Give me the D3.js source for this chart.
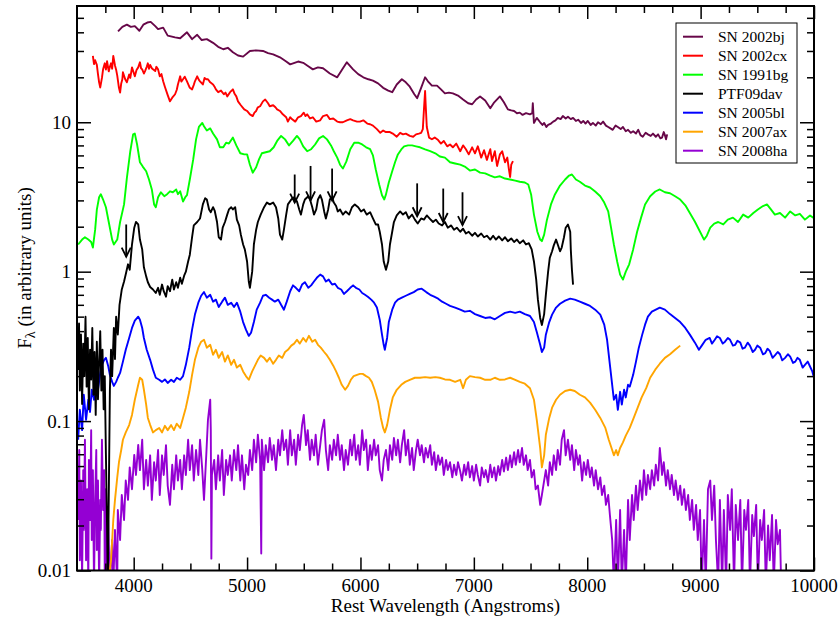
<!DOCTYPE html>
<html><head><meta charset="utf-8">
<script src="https://cdn.jsdelivr.net/npm/d3@7/dist/d3.min.js"></script>
<style>body{margin:0;background:#fff}svg{display:block}</style>
</head><body><svg id="c" width="839" height="618"></svg>
<script>
// ---------- DATA (wavelength in Angstrom, flux in arbitrary units) ----------
const xMajorTicks = [4000,5000,6000,7000,8000,9000,10000];
const xTickLabels = ["4000","5000","6000","7000","8000","9000","10000"];
const yMajorTicks = [0.01,0.1,1,10];
const yTickLabels = ["0.01","0.1","1","10"];
const seriesNames = ["SN 2002bj","SN 2002cx","SN 1991bg","PTF09dav","SN 2005bl","SN 2007ax","SN 2008ha"];

const sn2002bj = [[3862,40.6],[3900,43.5],[3940,45],[3975,43.5],[4010,44],[4050,41],[4085,45],[4120,46.5],[4150,47],[4190,44],[4215,42],[4260,43],[4300,38],[4365,37],[4410,36.5],[4470,40],[4515,36],[4560,38.5],[4600,35.5],[4645,36],[4700,34],[4745,32],[4790,30.8],[4830,31.5],[4875,29.4],[4920,28],[4965,27.5],[5025,30],[5080,30.3],[5140,30],[5185,29],[5230,28.5],[5290,27.2],[5345,25.5],[5380,24.4],[5450,25.5],[5495,25],[5530,24],[5580,22.6],[5625,23.3],[5670,23],[5730,21.2],[5795,20],[5840,22.6],[5880,25.2],[5935,22.6],[5980,21],[6025,20],[6070,19.4],[6110,19],[6155,18.2],[6200,17],[6245,16.3],[6280,15.9],[6320,17.9],[6365,19.4],[6400,18.5],[6435,17.3],[6475,15.4],[6500,14.5],[6535,17],[6570,20],[6595,18.8],[6630,17.6],[6675,17.6],[6710,16.6],[6745,15.6],[6780,15.8],[6815,15.6],[6860,15.1],[6905,14.2],[6950,13.4],[6985,13.2],[7020,14.2],[7055,14.9],[7100,14],[7145,12.4],[7180,13.6],[7230,14.9],[7265,13.6],[7300,12.2],[7330,12.0],[7355,11.9],[7380,11.5],[7405,11.6],[7430,11.2],[7460,11.5],[7495,11.3],[7515,11.5],[7520,13.4],[7530,9.9],[7555,10.7],[7585,10.0],[7605,9.6],[7620,9.9],[7640,9.3],[7655,9.6],[7680,9.8],[7700,10.1],[7720,10.3],[7740,10.7],[7765,10.5],[7785,11.0],[7810,10.6],[7830,10.9],[7855,10.5],[7875,10.7],[7900,10.2],[7920,10.4],[7945,9.9],[7965,10.2],[7985,9.8],[8005,10.2],[8030,9.6],[8050,9.9],[8075,9.5],[8095,10.0],[8120,9.7],[8140,10.1],[8165,9.5],[8185,9.3],[8205,9.1],[8225,8.9],[8250,9.5],[8270,9.3],[8295,9.0],[8315,9.3],[8340,8.7],[8360,8.9],[8385,8.5],[8405,8.7],[8430,8.4],[8450,8.9],[8470,8.2],[8490,8.0],[8515,8.5],[8535,8.3],[8560,8.1],[8580,8.4],[8605,8.0],[8625,8.3],[8645,7.8],[8660,7.9],[8675,8.6],[8685,8.2],[8695,7.7],[8705,8.3]];

const sn2002cx = [[3640,27.8],[3650,24.5],[3660,26],[3675,24.2],[3685,21],[3695,18.5],[3705,17.1],[3720,19.8],[3730,22.6],[3745,24.8],[3755,22.5],[3765,25.6],[3780,21.9],[3790,23.5],[3800,24.8],[3810,22.8],[3820,27.8],[3835,24],[3845,22.5],[3855,20.5],[3870,17],[3880,15.8],[3890,18.2],[3900,19.4],[3905,21.6],[3925,19.4],[3940,18.5],[3960,20.9],[3970,19.8],[3985,23.3],[4005,20.9],[4010,20.3],[4025,22.4],[4040,23.3],[4055,25.2],[4065,23],[4075,22.6],[4090,21.2],[4100,22],[4115,23.5],[4125,24.8],[4135,22.8],[4145,24.2],[4160,23],[4170,22.6],[4190,22],[4200,23.5],[4215,22.6],[4230,20.3],[4245,21],[4260,18.8],[4275,17.3],[4300,15.2],[4320,13.8],[4340,14.6],[4365,15.4],[4380,16.5],[4390,17.9],[4410,20.3],[4420,18.7],[4435,19.4],[4450,20.2],[4470,18.8],[4495,17],[4515,16.6],[4530,17.8],[4540,18.8],[4560,20.3],[4575,19.2],[4585,18.8],[4610,17.9],[4625,19.8],[4640,19.4],[4655,19.4],[4675,18.5],[4700,17.9],[4715,17.2],[4725,16.6],[4745,15.9],[4770,16.3],[4795,15.4],[4810,15.8],[4825,14.9],[4850,15.9],[4875,16.6],[4890,15.5],[4905,14.9],[4920,13.8],[4945,13],[4960,12.6],[4975,12.2],[5000,11.9],[5025,11.3],[5050,11],[5065,11.6],[5080,11.9],[5095,12.6],[5115,12.8],[5140,13.8],[5160,14.2],[5185,13.4],[5200,12.8],[5230,13],[5250,12.6],[5265,12.2],[5290,11.9],[5315,11.3],[5345,10.8],[5360,10.1],[5380,10.8],[5395,10.5],[5425,10.1],[5450,10.8],[5475,11],[5500,11.6],[5515,11.0],[5530,11.3],[5555,10.6],[5580,10.8],[5610,10.1],[5645,10.3],[5670,11],[5705,11.2],[5730,10.5],[5760,10.6],[5795,10.1],[5820,10],[5845,10],[5880,10.3],[5910,10.5],[5935,10.3],[5970,10.1],[5995,10.1],[6025,10.3],[6060,9.8],[6085,9.7],[6110,9.5],[6145,9.0],[6175,8.5],[6200,8.8],[6225,8.6],[6260,8.6],[6285,8.4],[6320,8.0],[6350,8.5],[6375,8.3],[6400,8.4],[6435,8.1],[6465,8.0],[6490,8.3],[6515,8.4],[6535,8.5],[6550,9.0],[6560,12.2],[6570,16.2],[6575,13.2],[6585,9.3],[6605,7.9],[6630,7.7],[6655,7.9],[6685,7.6],[6710,7.2],[6735,7.5],[6765,6.9],[6790,7.1],[6815,6.8],[6845,7.2],[6880,6.4],[6905,7],[6930,6.6],[6955,6.1],[6985,6.8],[7010,6.2],[7035,6.9],[7065,5.8],[7090,6.5],[7115,5.6],[7145,6.6],[7160,5.5],[7185,6.4],[7205,5.1],[7230,6.1],[7250,6.4],[7275,5.4],[7295,5.8],[7310,4.8],[7320,4.3],[7330,5.2],[7345,5.5]];

const sn1991bg = [[3510,1.52],[3545,1.64],[3570,1.7],[3600,1.64],[3625,1.58],[3640,1.45],[3660,1.91],[3675,2.6],[3695,3.15],[3710,3.3],[3730,3.04],[3755,2.7],[3780,2.15],[3810,1.64],[3825,1.52],[3855,1.64],[3880,2.15],[3915,2.82],[3940,4.25],[3970,6.4],[3995,8.3],[4010,8.4],[4030,7.1],[4055,5.4],[4080,5.05],[4110,4.7],[4135,4.14],[4160,3.55],[4180,2.82],[4195,2.7],[4215,3.15],[4240,3.4],[4270,3.2],[4295,3.3],[4320,3.45],[4345,3.4],[4375,3.55],[4390,3.3],[4410,3.45],[4435,2.95],[4455,3.15],[4470,3.25],[4495,4.14],[4525,5.64],[4550,7.68],[4575,9.3],[4605,9.9],[4620,9.4],[4645,8.8],[4675,9.1],[4700,8.4],[4735,7.68],[4760,6.8],[4790,6.8],[4815,7.3],[4840,7.2],[4875,7.9],[4905,7.0],[4940,6.2],[4975,6.1],[5000,6.1],[5025,5.2],[5050,4.6],[5080,5.0],[5105,5.64],[5130,6.2],[5165,6.3],[5200,6.4],[5235,6.8],[5265,7.5],[5300,8.1],[5335,7.68],[5370,7.0],[5405,7.5],[5440,8.1],[5465,7.68],[5495,6.9],[5530,6.4],[5565,6.6],[5600,7.1],[5635,7.8],[5670,8.1],[5705,7.68],[5740,7.0],[5765,6.4],[5795,5.8],[5820,5.2],[5845,4.9],[5875,5.45],[5910,6.6],[5945,7.3],[5980,7.3],[6015,7.1],[6050,6.8],[6085,6.6],[6110,6.0],[6135,4.83],[6165,3.83],[6190,3.25],[6210,3.04],[6225,3.29],[6250,3.95],[6280,4.7],[6305,5.4],[6330,6.09],[6360,6.58],[6385,6.9],[6420,7.0],[6455,7.0],[6490,6.9],[6525,6.8],[6570,6.58],[6615,6.4],[6660,6.2],[6700,5.9],[6745,5.8],[6790,5.4],[6835,5.3],[6880,5.2],[6920,5.05],[6965,4.75],[7010,4.83],[7055,4.6],[7100,4.55],[7145,4.4],[7185,4.28],[7230,4.35],[7275,4.2],[7320,4.14],[7365,4.07],[7405,4.0],[7450,3.95],[7480,3.83],[7505,3.29],[7530,2.41],[7560,1.85],[7585,1.64],[7600,1.6],[7620,1.77],[7645,2.23],[7680,2.82],[7715,3.29],[7760,3.77],[7805,4.14],[7840,4.4],[7865,4.47],[7900,4.14],[7935,4.0],[7980,3.77],[8025,3.66],[8070,3.44],[8115,3.2],[8150,2.9],[8185,2.53],[8210,1.97],[8235,1.52],[8265,1.16],[8290,0.956],[8315,0.885],[8340,1.0],[8370,1.12],[8405,1.41],[8440,1.85],[8475,2.3],[8510,2.82],[8555,3.2],[8600,3.44],[8640,3.55],[8685,3.4],[8730,3.35],[8775,3.2],[8820,3.04],[8865,2.78],[8905,2.47],[8950,2.16],[8995,1.85],[9030,1.64],[9055,1.74],[9085,1.97],[9120,2.1],[9155,2.15],[9200,2.07],[9240,2.23],[9285,2.3],[9330,2.15],[9375,2.41],[9420,2.3],[9465,2.47],[9505,2.61],[9550,2.75],[9585,2.82],[9620,2.61],[9655,2.41],[9700,2.47],[9745,2.3],[9790,2.53],[9835,2.38],[9875,2.44],[9920,2.23],[9965,2.38],[10000,2.28]];

const ptf09dav = [[3510,0.22],[3518,0.45],[3525,0.16],[3535,0.38],[3545,0.13],[3555,0.33],[3565,0.2],[3575,0.5],[3585,0.17],[3595,0.36],[3605,0.12],[3615,0.3],[3625,0.19],[3635,0.42],[3645,0.15],[3655,0.29],[3665,0.11],[3675,0.34],[3685,0.14],[3695,0.25],[3705,0.4],[3715,0.16],[3725,0.3],[3735,0.12],[3745,0.2],[3755,0.06],[3765,0.02],[3772,0.008],[3780,0.03],[3790,0.16],[3800,0.3],[3810,0.2],[3825,0.42],[3835,0.26],[3845,0.5],[3860,0.38],[3875,0.6],[3895,0.76],[3915,0.86],[3930,0.96],[3950,1.12],[3965,1.03],[3985,1.52],[4005,1.97],[4020,2.15],[4040,2.07],[4055,1.64],[4075,1.41],[4090,1.07],[4110,0.93],[4125,0.85],[4145,0.79],[4170,0.76],[4195,0.72],[4215,0.78],[4230,0.70],[4250,0.82],[4265,0.74],[4285,0.68],[4300,0.80],[4320,0.74],[4340,0.885],[4355,0.76],[4375,0.85],[4390,0.78],[4410,0.91],[4425,0.83],[4445,0.94],[4460,1.0],[4480,1.17],[4495,1.3],[4515,1.7],[4530,2.04],[4560,2.15],[4585,2.27],[4610,2.82],[4630,3.1],[4645,3.04],[4665,2.61],[4680,2.5],[4700,2.7],[4715,2.55],[4735,2.15],[4750,1.7],[4770,1.64],[4785,1.97],[4805,2.15],[4825,2.41],[4840,2.61],[4860,2.7],[4875,2.61],[4895,2.7],[4910,2.23],[4930,2.04],[4945,1.77],[4965,1.52],[4980,1.41],[5000,1.17],[5015,0.86],[5025,0.78],[5045,1.0],[5060,1.52],[5080,1.91],[5095,2.15],[5120,2.41],[5150,2.7],[5175,2.9],[5200,2.82],[5230,2.9],[5255,2.7],[5275,2.27],[5290,1.77],[5310,1.64],[5325,1.91],[5345,2.41],[5360,2.82],[5390,3.04],[5415,3.15],[5440,2.95],[5460,2.61],[5475,2.41],[5495,2.82],[5510,3.04],[5540,3.2],[5555,3.04],[5575,2.7],[5590,2.41],[5610,2.61],[5625,3.04],[5645,3.25],[5660,3.04],[5680,2.53],[5695,2.27],[5715,2.61],[5730,3.04],[5750,3.15],[5765,2.9],[5785,2.75],[5800,2.53],[5820,2.61],[5845,2.41],[5870,2.53],[5900,2.41],[5925,2.7],[5950,2.82],[5980,2.7],[6005,2.53],[6030,2.61],[6055,2.41],[6085,2.5],[6110,2.27],[6135,2.07],[6155,2.07],[6170,1.85],[6190,1.52],[6205,1.17],[6225,1.03],[6245,1.17],[6260,1.52],[6280,1.85],[6295,2.15],[6320,2.38],[6350,2.53],[6375,2.41],[6400,2.5],[6425,2.27],[6455,2.41],[6480,2.23],[6505,2.1],[6535,2.27],[6560,2.23],[6585,2.38],[6615,2.25],[6640,2.15],[6665,2.23],[6690,2.1],[6720,2.04],[6745,2.15],[6770,1.97],[6800,2.04],[6825,1.91],[6850,1.97],[6880,1.85],[6905,1.94],[6930,1.8],[6955,1.85],[6985,1.74],[7010,1.82],[7035,1.72],[7065,1.8],[7090,1.7],[7115,1.74],[7145,1.64],[7170,1.74],[7195,1.64],[7220,1.72],[7250,1.62],[7275,1.7],[7300,1.6],[7330,1.67],[7355,1.58],[7380,1.64],[7405,1.55],[7435,1.62],[7460,1.52],[7485,1.55],[7510,1.41],[7530,1.17],[7550,0.885],[7565,0.65],[7585,0.49],[7600,0.44],[7620,0.52],[7635,0.70],[7655,1.0],[7670,1.24],[7690,1.37],[7705,1.5],[7725,1.64],[7740,1.52],[7760,1.37],[7775,1.45],[7795,1.7],[7810,1.97],[7830,2.07],[7850,1.85],[7855,1.41],[7865,1.03],[7875,0.82]];

const sn2005bl = [[3510,0.075],[3525,0.119],[3545,0.087],[3560,0.15],[3580,0.102],[3600,0.139],[3615,0.115],[3630,0.162],[3650,0.139],[3665,0.189],[3685,0.162],[3705,0.21],[3720,0.238],[3740,0.257],[3755,0.265],[3775,0.234],[3790,0.204],[3810,0.183],[3825,0.172],[3845,0.183],[3860,0.195],[3880,0.21],[3905,0.25],[3930,0.30],[3960,0.36],[3985,0.42],[4010,0.47],[4040,0.50],[4055,0.477],[4075,0.42],[4090,0.36],[4115,0.30],[4145,0.257],[4170,0.221],[4195,0.195],[4225,0.189],[4250,0.183],[4275,0.19],[4300,0.18],[4330,0.189],[4355,0.183],[4380,0.195],[4410,0.189],[4435,0.2],[4460,0.238],[4490,0.31],[4515,0.409],[4540,0.516],[4570,0.62],[4595,0.69],[4620,0.73],[4645,0.67],[4675,0.70],[4700,0.63],[4725,0.65],[4750,0.58],[4780,0.63],[4805,0.67],[4830,0.60],[4860,0.62],[4885,0.58],[4910,0.62],[4940,0.54],[4965,0.46],[4990,0.409],[5015,0.372],[5035,0.39],[5060,0.46],[5085,0.557],[5115,0.62],[5140,0.69],[5165,0.70],[5195,0.67],[5220,0.65],[5245,0.63],[5275,0.65],[5300,0.60],[5325,0.557],[5350,0.63],[5380,0.74],[5405,0.81],[5430,0.78],[5460,0.74],[5485,0.82],[5510,0.85],[5540,0.78],[5565,0.81],[5590,0.86],[5615,0.91],[5645,0.956],[5670,0.93],[5695,0.86],[5720,0.885],[5750,0.82],[5775,0.83],[5800,0.78],[5830,0.76],[5855,0.71],[5880,0.74],[5910,0.78],[5935,0.81],[5960,0.78],[5990,0.76],[6015,0.72],[6040,0.70],[6065,0.68],[6095,0.65],[6120,0.62],[6145,0.575],[6170,0.477],[6190,0.379],[6205,0.324],[6215,0.30],[6235,0.36],[6250,0.46],[6280,0.557],[6305,0.62],[6330,0.65],[6365,0.67],[6400,0.69],[6435,0.71],[6470,0.73],[6505,0.76],[6540,0.77],[6580,0.73],[6615,0.70],[6650,0.68],[6685,0.66],[6720,0.63],[6755,0.61],[6790,0.59],[6835,0.575],[6880,0.557],[6920,0.54],[6965,0.547],[7010,0.52],[7055,0.505],[7100,0.49],[7145,0.495],[7185,0.48],[7230,0.505],[7275,0.53],[7320,0.54],[7365,0.53],[7405,0.54],[7450,0.52],[7495,0.505],[7530,0.46],[7555,0.395],[7585,0.324],[7600,0.29],[7620,0.31],[7635,0.379],[7665,0.46],[7690,0.516],[7725,0.575],[7760,0.61],[7805,0.64],[7850,0.66],[7890,0.65],[7935,0.63],[7980,0.61],[8025,0.59],[8070,0.557],[8115,0.516],[8150,0.442],[8175,0.35],[8200,0.238],[8220,0.175],[8235,0.139],[8255,0.15],[8270,0.119],[8290,0.157],[8305,0.129],[8325,0.162],[8340,0.144],[8360,0.175],[8375,0.17],[8405,0.204],[8430,0.25],[8455,0.31],[8485,0.379],[8510,0.442],[8535,0.5],[8570,0.54],[8605,0.557],[8640,0.575],[8685,0.557],[8730,0.52],[8775,0.49],[8820,0.46],[8865,0.42],[8905,0.379],[8950,0.335],[8985,0.30],[9010,0.32],[9045,0.35],[9080,0.36],[9100,0.33],[9125,0.35],[9145,0.37],[9170,0.36],[9195,0.33],[9215,0.34],[9240,0.36],[9260,0.35],[9285,0.32],[9305,0.324],[9325,0.345],[9350,0.335],[9370,0.305],[9390,0.31],[9415,0.335],[9435,0.32],[9460,0.29],[9480,0.30],[9500,0.32],[9525,0.31],[9550,0.28],[9570,0.285],[9590,0.305],[9610,0.295],[9635,0.265],[9655,0.275],[9680,0.29],[9700,0.28],[9720,0.255],[9745,0.265],[9770,0.28],[9790,0.27],[9815,0.245],[9835,0.25],[9855,0.265],[9875,0.257],[9900,0.228],[9920,0.238],[9945,0.25],[9965,0.232],[9985,0.215],[10000,0.195]];

const sn2007ax = [[3775,0.008],[3800,0.0117],[3820,0.0218],[3835,0.0297],[3855,0.042],[3870,0.053],[3890,0.064],[3905,0.075],[3930,0.084],[3960,0.094],[3985,0.11],[4010,0.139],[4040,0.175],[4055,0.195],[4075,0.189],[4090,0.162],[4110,0.129],[4125,0.105],[4145,0.0944],[4170,0.084],[4195,0.087],[4225,0.09],[4250,0.084],[4275,0.093],[4300,0.087],[4330,0.094],[4355,0.087],[4380,0.096],[4410,0.09],[4435,0.105],[4460,0.123],[4490,0.157],[4515,0.204],[4540,0.257],[4570,0.31],[4595,0.34],[4620,0.35],[4645,0.31],[4675,0.324],[4700,0.278],[4725,0.30],[4750,0.265],[4780,0.29],[4805,0.25],[4830,0.275],[4860,0.238],[4885,0.257],[4910,0.228],[4940,0.238],[4965,0.215],[4990,0.2],[5015,0.189],[5045,0.215],[5070,0.235],[5095,0.257],[5120,0.275],[5150,0.265],[5175,0.25],[5200,0.265],[5230,0.242],[5255,0.257],[5280,0.275],[5310,0.265],[5335,0.29],[5360,0.30],[5390,0.32],[5415,0.33],[5440,0.35],[5465,0.33],[5495,0.36],[5520,0.34],[5545,0.372],[5575,0.34],[5600,0.35],[5625,0.324],[5650,0.31],[5680,0.29],[5705,0.275],[5730,0.257],[5760,0.235],[5785,0.215],[5810,0.195],[5835,0.175],[5865,0.162],[5890,0.172],[5915,0.189],[5940,0.2],[5970,0.204],[5995,0.207],[6020,0.207],[6050,0.2],[6075,0.195],[6100,0.183],[6125,0.162],[6155,0.135],[6180,0.105],[6200,0.09],[6215,0.084],[6235,0.094],[6260,0.119],[6285,0.144],[6320,0.162],[6360,0.175],[6395,0.183],[6435,0.189],[6480,0.195],[6525,0.195],[6570,0.197],[6615,0.195],[6660,0.197],[6700,0.195],[6745,0.19],[6790,0.189],[6835,0.183],[6880,0.189],[6905,0.166],[6930,0.189],[6965,0.2],[7010,0.197],[7055,0.195],[7100,0.189],[7145,0.189],[7185,0.195],[7230,0.189],[7275,0.19],[7320,0.195],[7365,0.189],[7405,0.183],[7450,0.178],[7495,0.166],[7530,0.139],[7555,0.102],[7585,0.066],[7600,0.049],[7620,0.059],[7635,0.081],[7665,0.105],[7690,0.123],[7725,0.139],[7760,0.15],[7805,0.159],[7850,0.162],[7890,0.159],[7935,0.15],[7980,0.144],[8025,0.133],[8070,0.119],[8115,0.105],[8160,0.09],[8190,0.075],[8220,0.064],[8235,0.059],[8255,0.064],[8270,0.059],[8290,0.066],[8315,0.072],[8340,0.08],[8375,0.09],[8410,0.105],[8445,0.123],[8480,0.144],[8520,0.166],[8555,0.195],[8600,0.221],[8640,0.242],[8685,0.265],[8730,0.28],[8775,0.30],[8820,0.32]];

const sn2008ha = [[3510,0.0218],[3520,0.064],[3525,0.0117],[3535,0.04],[3545,0.0086],[3555,0.047],[3560,0.0187],[3570,0.075],[3580,0.0117],[3590,0.035],[3600,0.008],[3605,0.055],[3615,0.0218],[3625,0.087],[3630,0.016],[3640,0.047],[3650,0.008],[3660,0.0297],[3670,0.064],[3675,0.0137],[3685,0.04],[3695,0.008],[3705,0.0297],[3710,0.0187],[3720,0.075],[3730,0.0254],[3740,0.047],[3745,0.008],[3755,0.035],[3765,0.008],[3775,0.0218],[3790,0.008],[3810,0.016],[3820,0.008],[3835,0.0187],[3855,0.008],[3860,0.0254],[3880,0.016],[3895,0.032],[3915,0.0218],[3930,0.04],[3950,0.0297],[3965,0.049],[3985,0.035],[4005,0.0594],[4020,0.0436],[4040,0.0693],[4055,0.047],[4075,0.075],[4090,0.035],[4110,0.055],[4125,0.037],[4145,0.059],[4160,0.0297],[4180,0.053],[4195,0.04],[4215,0.064],[4230,0.032],[4250,0.059],[4265,0.0436],[4285,0.069],[4300,0.037],[4320,0.0275],[4340,0.051],[4355,0.035],[4375,0.059],[4390,0.04],[4410,0.055],[4425,0.035],[4445,0.059],[4460,0.0436],[4480,0.075],[4495,0.047],[4515,0.069],[4530,0.04],[4550,0.064],[4570,0.0436],[4585,0.075],[4605,0.047],[4620,0.0297],[4640,0.059],[4655,0.102],[4675,0.139],[4680,0.087],[4685,0.012],[4690,0.0436],[4710,0.055],[4725,0.035],[4745,0.059],[4760,0.04],[4780,0.064],[4795,0.032],[4815,0.055],[4830,0.0436],[4850,0.059],[4865,0.04],[4885,0.064],[4905,0.047],[4920,0.069],[4940,0.04],[4955,0.059],[4975,0.035],[4990,0.051],[5010,0.0436],[5025,0.064],[5045,0.047],[5060,0.075],[5080,0.053],[5095,0.081],[5115,0.055],[5125,0.013],[5130,0.075],[5150,0.047],[5165,0.069],[5185,0.053],[5200,0.077],[5220,0.055],[5235,0.069],[5255,0.047],[5275,0.075],[5290,0.059],[5310,0.087],[5325,0.064],[5345,0.075],[5360,0.051],[5380,0.087],[5395,0.059],[5415,0.075],[5430,0.051],[5450,0.081],[5465,0.064],[5485,0.094],[5500,0.11],[5520,0.069],[5535,0.087],[5555,0.055],[5570,0.075],[5590,0.059],[5605,0.081],[5625,0.051],[5645,0.069],[5660,0.087],[5680,0.102],[5695,0.064],[5715,0.047],[5730,0.069],[5750,0.055],[5765,0.075],[5785,0.059],[5800,0.081],[5820,0.055],[5835,0.069],[5855,0.047],[5870,0.064],[5890,0.051],[5910,0.075],[5925,0.059],[5945,0.081],[5960,0.055],[5980,0.069],[5995,0.051],[6015,0.087],[6030,0.064],[6050,0.075],[6065,0.047],[6085,0.069],[6100,0.055],[6120,0.075],[6135,0.059],[6155,0.069],[6170,0.047],[6190,0.04],[6205,0.055],[6225,0.064],[6245,0.047],[6260,0.069],[6280,0.055],[6295,0.077],[6315,0.059],[6330,0.075],[6350,0.053],[6365,0.069],[6385,0.087],[6400,0.059],[6420,0.075],[6435,0.051],[6455,0.066],[6470,0.047],[6490,0.064],[6505,0.075],[6525,0.059],[6540,0.069],[6560,0.053],[6575,0.066],[6595,0.057],[6615,0.069],[6630,0.051],[6650,0.062],[6665,0.047],[6685,0.059],[6700,0.051],[6720,0.057],[6735,0.0436],[6755,0.055],[6770,0.047],[6790,0.053],[6810,0.042],[6825,0.051],[6845,0.0436],[6860,0.053],[6880,0.046],[6895,0.04],[6915,0.051],[6930,0.0436],[6950,0.053],[6965,0.042],[6985,0.05],[7000,0.04],[7020,0.051],[7035,0.0436],[7055,0.037],[7070,0.049],[7090,0.042],[7105,0.047],[7125,0.039],[7145,0.051],[7160,0.042],[7180,0.049],[7195,0.04],[7215,0.05],[7230,0.0436],[7250,0.055],[7265,0.046],[7285,0.057],[7300,0.047],[7320,0.059],[7335,0.049],[7355,0.062],[7370,0.051],[7390,0.064],[7405,0.053],[7425,0.066],[7440,0.051],[7460,0.059],[7475,0.047],[7495,0.055],[7510,0.042],[7530,0.047],[7545,0.035],[7565,0.037],[7585,0.0275],[7600,0.032],[7620,0.04],[7635,0.047],[7655,0.037],[7670,0.053],[7690,0.0436],[7705,0.059],[7725,0.047],[7740,0.064],[7760,0.051],[7775,0.075],[7795,0.087],[7810,0.059],[7830,0.075],[7850,0.055],[7865,0.069],[7885,0.047],[7900,0.064],[7920,0.051],[7935,0.059],[7955,0.04],[7970,0.053],[7990,0.0436],[8005,0.055],[8025,0.042],[8040,0.049],[8060,0.037],[8075,0.047],[8095,0.035],[8115,0.042],[8130,0.032],[8150,0.037],[8165,0.0275],[8185,0.032],[8200,0.0235],[8220,0.016],[8235,0.008],[8255,0.0218],[8270,0.008],[8290,0.0254],[8305,0.008],[8325,0.0187],[8340,0.008],[8360,0.0297],[8375,0.016],[8395,0.032],[8410,0.0218],[8430,0.037],[8445,0.0254],[8465,0.04],[8485,0.0297],[8500,0.047],[8520,0.032],[8535,0.0436],[8555,0.035],[8570,0.047],[8590,0.037],[8605,0.051],[8625,0.04],[8640,0.066],[8650,0.055],[8660,0.0436],[8675,0.053],[8695,0.037],[8710,0.047],[8730,0.035],[8745,0.0436],[8765,0.032],[8780,0.04],[8800,0.0297],[8820,0.037],[8835,0.0275],[8855,0.035],[8870,0.0254],[8890,0.032],[8905,0.0218],[8925,0.0297],[8940,0.0187],[8960,0.0275],[8975,0.016],[8995,0.0254],[9010,0.008],[9030,0.0218],[9045,0.008],[9065,0.035],[9085,0.04],[9100,0.0218],[9120,0.037],[9135,0.016],[9155,0.008],[9170,0.0297],[9190,0.008],[9205,0.0254],[9225,0.008],[9240,0.032],[9260,0.0187],[9275,0.035],[9295,0.008],[9310,0.0275],[9330,0.016],[9350,0.0297],[9365,0.008],[9385,0.0254],[9400,0.0187],[9420,0.0297],[9435,0.008],[9455,0.0235],[9470,0.017],[9490,0.0275],[9505,0.008],[9525,0.0218],[9540,0.016],[9560,0.0254],[9575,0.008],[9595,0.02],[9610,0.0117],[9630,0.0235],[9645,0.008],[9665,0.0218],[9680,0.015],[9700,0.0187],[9710,0.008]];

// Line-identification arrows on PTF09dav: wavelength, flux at arrow top, flux at arrow tip
const arrowWavelengths = [3934,5420,5560,5750,6500,6730,6900];
const arrowTopFlux    = [2.07,4.47,5.1,4.9,3.9,3.6,3.4];
const arrowTipFlux    = [1.26,2.9,3.0,3.0,2.35,2.15,2.05];

// ---------- STYLE ----------
const seriesData = [sn2002bj, sn2002cx, sn1991bg, ptf09dav, sn2005bl, sn2007ax, sn2008ha];
const seriesColors = ["#670748","#ff0000","#00ff00","#000000","#0000ff","#ffa500","#9400d3"];
const drawOrder = [6,5,4,2,1,0,3];

const L = 77, R = 814, T = 6, B = 570.5;
const svg = d3.select("#c");
const x = d3.scaleLinear().domain([3500,10000]).range([L,R]);
const y = d3.scaleLog().domain([0.01,60]).range([B,T]);
const FONT = "'Liberation Serif','Times New Roman',serif";

svg.append("defs").append("clipPath").attr("id","plotclip")
  .append("rect").attr("x",L).attr("y",T).attr("width",R-L).attr("height",B-T);

const line = d3.line().x(d=>x(d[0])).y(d=>y(d[1]));
const gData = svg.append("g").attr("clip-path","url(#plotclip)");
drawOrder.forEach(i=>{
  gData.append("path").datum(seriesData[i])
    .attr("d",line).attr("fill","none")
    .attr("stroke",seriesColors[i]).attr("stroke-width",1.9)
    .attr("stroke-linejoin","round");
});

// arrows
const gArr = svg.append("g").attr("stroke","#000").attr("fill","none").attr("stroke-width",1.8);
arrowWavelengths.forEach((w,i)=>{
  const ax = x(w), yt = y(arrowTopFlux[i]), yb = y(arrowTipFlux[i]);
  gArr.append("line").attr("x1",ax).attr("x2",ax).attr("y1",yt).attr("y2",yb);
  gArr.append("polyline").attr("points",`${ax-4.5},${yb-9} ${ax},${yb} ${ax+4.5},${yb-9}`);
});

// axes (inward ticks on all four sides)
const xMinor = d3.range(3750,10000,250).filter(v=>v%1000!==0);
const yMinor = [];
[-2,-1,0,1].forEach(e=>{ for(let k=2;k<=9;k++){ const v=k*Math.pow(10,e); if(v<60) yMinor.push(v);} });

function axisG(gen, tx, ty){
  const g = svg.append("g").attr("transform",`translate(${tx},${ty})`).call(gen);
  g.selectAll(".domain").remove();
  g.selectAll("text").remove();
  g.selectAll("line").attr("stroke","#000").attr("stroke-width",1.5);
  return g;
}
axisG(d3.axisBottom(x).tickValues(xMajorTicks).tickSize(-13), 0, B);
axisG(d3.axisBottom(x).tickValues(xMinor).tickSize(-7), 0, B);
axisG(d3.axisTop(x).tickValues(xMajorTicks).tickSize(-13), 0, T);
axisG(d3.axisTop(x).tickValues(xMinor).tickSize(-7), 0, T);
axisG(d3.axisLeft(y).tickValues(yMajorTicks).tickSize(-14), L, 0);
axisG(d3.axisLeft(y).tickValues(yMinor).tickSize(-7), L, 0);
axisG(d3.axisRight(y).tickValues(yMajorTicks).tickSize(-14), R, 0);
axisG(d3.axisRight(y).tickValues(yMinor).tickSize(-7), R, 0);

// frame
svg.append("rect").attr("x",L).attr("y",T).attr("width",R-L).attr("height",B-T)
  .attr("fill","none").attr("stroke","#000").attr("stroke-width",2);

// tick labels
svg.append("g").selectAll("text").data(xMajorTicks).join("text")
  .attr("x",d=>x(d)).attr("y",B+21).attr("text-anchor","middle")
  .attr("font-family",FONT).attr("font-size",19).text((d,i)=>xTickLabels[i]);
svg.append("g").selectAll("text").data(yMajorTicks).join("text")
  .attr("x",L-6).attr("y",d=>y(d)+6.5).attr("text-anchor","end")
  .attr("font-family",FONT).attr("font-size",19).text((d,i)=>yTickLabels[i]);

// axis titles
svg.append("text").attr("x",(L+R)/2).attr("y",612).attr("text-anchor","middle")
  .attr("font-family",FONT).attr("font-size",19).text("Rest Wavelength (Angstroms)");
const yt = svg.append("text").attr("transform","translate(31,268) rotate(-90)")
  .attr("text-anchor","middle").attr("font-family",FONT).attr("font-size",19);
yt.append("tspan").text("F");
yt.append("tspan").attr("font-size",14).attr("dy",4).text("λ");
yt.append("tspan").attr("dy",-4).text(" (in arbitrary units)");

// legend
const lg = svg.append("g");
lg.append("rect").attr("x",676).attr("y",23).attr("width",121).attr("height",140)
  .attr("fill","#fff").attr("stroke","#000").attr("stroke-width",1);
seriesNames.forEach((n,i)=>{
  const ly = 36.7 + i*19;
  lg.append("line").attr("x1",683).attr("x2",703).attr("y1",ly).attr("y2",ly)
    .attr("stroke",seriesColors[i]).attr("stroke-width",2);
  lg.append("text").attr("x",718).attr("y",ly+5).attr("font-family",FONT)
    .attr("font-size",15.5).text(n);
});
</script></body></html>
